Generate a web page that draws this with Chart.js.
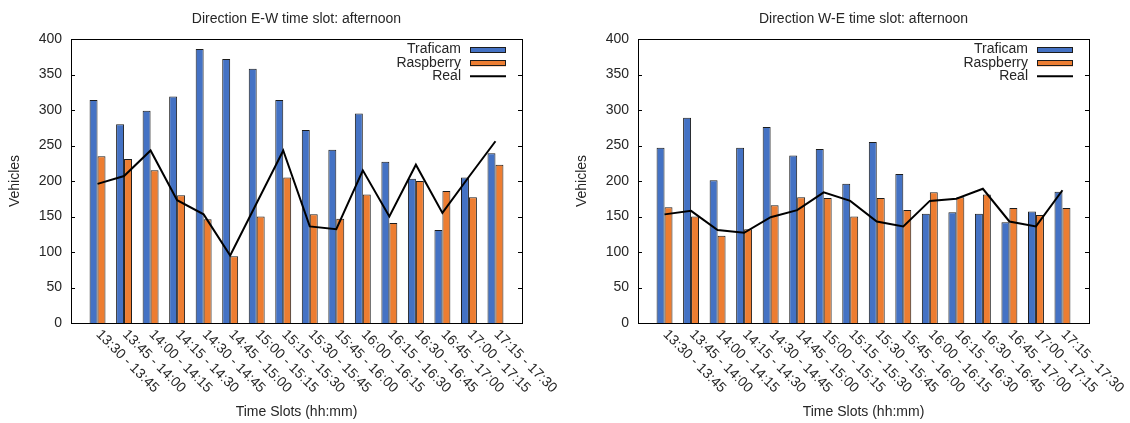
<!DOCTYPE html>
<html>
<head>
<meta charset="utf-8">
<title>Vehicle counts by direction, afternoon</title>
<script src="https://cdn.jsdelivr.net/npm/chart.js@4.4.1/dist/chart.umd.min.js"></script>
<style>
  html, body { margin: 0; padding: 0; background: #fff; overflow: hidden; }
  #wrap { position: relative; width: 1130px; height: 423px; }
  canvas { position: absolute; top: 0; }
</style>
</head>
<body>
<div id="wrap">
  <canvas id="ew" width="565" height="423" style="left:0"></canvas>
  <canvas id="we" width="563" height="423" style="left:567px"></canvas>
</div>
<script>
// 15-minute slots of the afternoon window (tick labels)
const timeSlots = [
  '13:30 - 13:45', '13:45 - 14:00', '14:00 - 14:15', '14:15 - 14:30',
  '14:30 - 14:45', '14:45 - 15:00', '15:00 - 15:15', '15:15 - 15:30',
  '15:30 - 15:45', '15:45 - 16:00', '16:00 - 16:15', '16:15 - 16:30',
  '16:30 - 16:45', '16:45 - 17:00', '17:00 - 17:15', '17:15 - 17:30'
];

// Direction E-W
const ewTraficam  = [314, 280, 299, 319, 386, 372, 358, 314, 272, 244, 295, 227, 203, 131, 205, 239];
const ewRaspberry = [235, 231, 215, 180, 146,  94, 150, 205, 153, 147, 181, 141, 200, 186, 177, 223];
const ewReal      = [196, 207, 243, 173, 153,  95, 169, 243, 136, 132, 215, 150, 223, 155, 206, 256];

// Direction W-E
const weTraficam  = [247, 289, 201, 247, 276, 236, 245, 196, 255, 210, 154, 156, 154, 142, 157, 185];
const weRaspberry = [163, 150, 123, 132, 166, 177, 176, 150, 176, 159, 184, 177, 181, 162, 152, 162];
const weReal      = [153, 158, 131, 127, 149, 159, 184, 172, 143, 136, 172, 175, 189, 143, 136, 187];

// Vehicle axis
const yMin = 0, yMax = 400, yStep = 50;

const FONT = "'Liberation Sans', Arial, Helvetica, sans-serif";
const INK = '#262626';
const BLUE = '#4472c4';
const ORANGE = '#ed7d31';
const EDGE = '#1c1c1c';

// empty slot on each side so the x range runs one slot past the data
const withMargins = arr => [null, ...arr, null];

// chart title centred over the plot area
const panelTitle = {
  id: 'panelTitle',
  afterDraw(chart, args, opts) {
    const { ctx, chartArea: a } = chart;
    ctx.save();
    ctx.font = `14px ${FONT}`;
    ctx.fillStyle = INK;
    ctx.textAlign = 'center';
    ctx.textBaseline = 'middle';
    ctx.fillText(opts.text, (a.left + a.right) / 2, 19);
    ctx.restore();
  }
};

// boxed frame with inward tick marks on both vertical sides
const frame = {
  id: 'frame',
  afterDatasetsDraw(chart) {
    const { ctx, chartArea: a, scales: { y } } = chart;
    ctx.save();
    ctx.strokeStyle = '#000';
    ctx.lineWidth = 1;
    ctx.beginPath();
    y.ticks.forEach(t => {
      if (t.value <= yMin || t.value >= yMax) return;
      const py = Math.round(y.getPixelForValue(t.value)) + 0.5;
      ctx.moveTo(a.left, py); ctx.lineTo(a.left + 4, py);
      ctx.moveTo(a.right, py); ctx.lineTo(a.right - 4, py);
    });
    ctx.stroke();
    ctx.strokeRect(Math.round(a.left) + 0.5, Math.round(a.top) + 0.5,
                   Math.round(a.right - a.left), Math.round(a.bottom - a.top));
    ctx.restore();
  }
};

// slot labels slanting down to the right from each group centre
const slotLabels = {
  id: 'slotLabels',
  afterDraw(chart) {
    const { ctx, chartArea: a, scales: { x } } = chart;
    ctx.save();
    ctx.font = `14px ${FONT}`;
    ctx.fillStyle = INK;
    ctx.textAlign = 'left';
    ctx.textBaseline = 'alphabetic';
    chart.data.labels.forEach((lab, i) => {
      if (!lab) return;
      const px = x.getPixelForValue(i);
      ctx.save();
      ctx.translate(px - 2, a.bottom + 12);
      ctx.rotate(Math.PI / 4);
      ctx.fillText(lab, 0, 0);
      ctx.restore();
    });
    ctx.restore();
  }
};

// key in the top-right corner: text first, sample after it
const key = {
  id: 'key',
  afterDraw(chart) {
    const { ctx, chartArea: a } = chart;
    ctx.save();
    ctx.font = `14px ${FONT}`;
    ctx.textAlign = 'right';
    ctx.textBaseline = 'alphabetic';
    chart.data.datasets.forEach((ds, i) => {
      const base = a.top + 14.3 + 13.3 * i;
      ctx.fillStyle = INK;
      ctx.fillText(ds.label, a.right - 61, base);
      if (ds.type === 'line') {
        ctx.strokeStyle = ds.borderColor;
        ctx.lineWidth = 2;
        ctx.beginPath();
        ctx.moveTo(a.right - 52, base - 3.7);
        ctx.lineTo(a.right - 16, base - 3.7);
        ctx.stroke();
      } else {
        ctx.fillStyle = ds.backgroundColor;
        ctx.fillRect(a.right - 52, base - 6.3, 36, 6);
        ctx.strokeStyle = EDGE;
        ctx.lineWidth = 1;
        ctx.strokeRect(a.right - 52 + 0.5, Math.round(base - 6.3) + 0.5, 35, 5);
      }
    });
    ctx.restore();
  }
};

function buildPanel(canvasId, title, traficam, raspberry, real, rightPad) {
  return new Chart(document.getElementById(canvasId), {
    type: 'bar',
    data: {
      labels: withMargins(timeSlots).map(s => s || ''),
      datasets: [
        { label: 'Traficam', data: withMargins(traficam), backgroundColor: BLUE,
          borderColor: EDGE, borderWidth: 1, inflateAmount: 0, order: 1 },
        { label: 'Raspberry', data: withMargins(raspberry), backgroundColor: ORANGE,
          borderColor: EDGE, borderWidth: 1, inflateAmount: 0, order: 1 },
        { label: 'Real', type: 'line', data: withMargins(real), borderColor: '#000',
          borderWidth: 2, pointRadius: 0, tension: 0, fill: false, order: 0 }
      ]
    },
    options: {
      responsive: false,
      devicePixelRatio: 1,
      animation: false,
      events: [],
      layout: { padding: { top: 39, left: 0, right: rightPad, bottom: 0 } },
      datasets: { bar: { categoryPercentage: 0.6, barPercentage: 1.0 } },
      scales: {
        x: {
          type: 'category',
          offset: false,
          grid: { display: false, drawTicks: false },
          border: { display: false },
          ticks: { display: false },
          title: { display: true, text: 'Time Slots (hh:mm)', color: INK,
                   font: { family: FONT, size: 14 }, padding: { top: 0, bottom: 2 } },
          afterFit(s) { s.height = 100; }
        },
        y: {
          min: yMin, max: yMax,
          ticks: { stepSize: yStep, padding: 9, color: INK, font: { family: FONT, size: 14 } },
          grid: { display: false, drawTicks: false },
          border: { display: false },
          title: { display: true, text: 'Vehicles', color: INK,
                   font: { family: FONT, size: 14 }, padding: { top: 7, bottom: 0 } },
          afterFit(s) { s.width = 71; }
        }
      },
      plugins: {
        legend: { display: false },
        tooltip: { enabled: false },
        panelTitle: { text: title }
      }
    },
    plugins: [panelTitle, frame, slotLabels, key]
  });
}

buildPanel('ew', 'Direction E-W time slot: afternoon', ewTraficam, ewRaspberry, ewReal, 43);
buildPanel('we', 'Direction W-E time slot: afternoon', weTraficam, weRaspberry, weReal, 41);
</script>
</body>
</html>
